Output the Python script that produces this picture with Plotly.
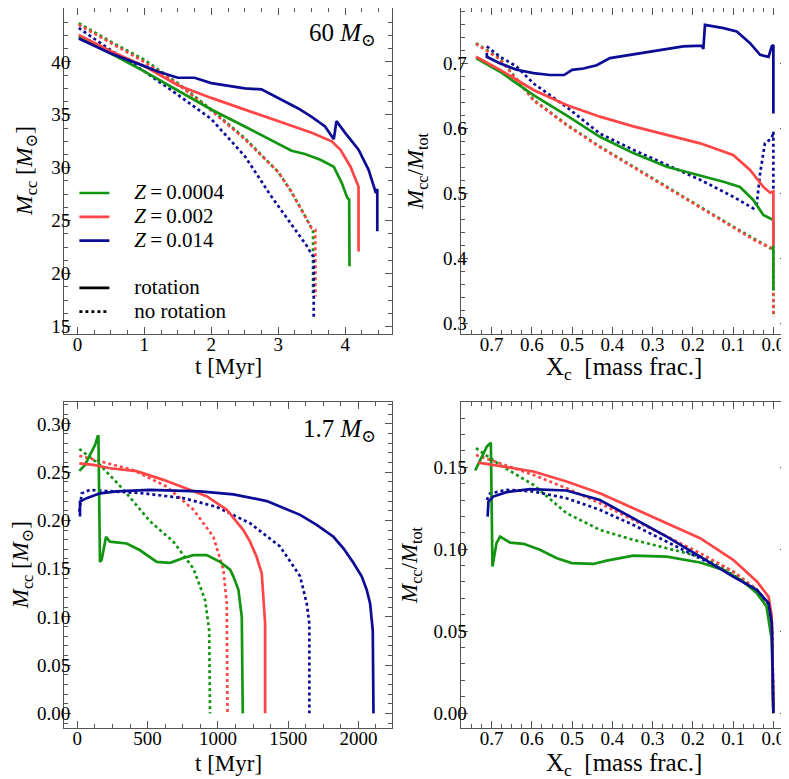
import plotly.graph_objects as go

# colours for the three metallicities
GREEN = "#129612"
RED = "#ff4545"
BLUE = "#0b0b96"
FONT = "Liberation Serif, Times New Roman, DejaVu Serif, serif"

# ---- 60 Msun, M_cc vs t [Myr] ----
t60_z0004_rot = [0.02, 0.5, 1.0, 1.5, 2.0, 2.5, 3.0, 3.2, 3.4, 3.63, 3.83, 3.95, 4.03, 4.06, 4.065]
m60_z0004_rot = [42.4, 40.8, 39.1, 37.3, 35.5, 33.9, 32.3, 31.6, 31.3, 30.75, 30.1, 28.55, 27.2, 27.0, 20.7]
t60_z002_rot = [0.02, 0.5, 1.0, 1.5, 2.0, 2.5, 3.0, 3.5, 3.8, 3.93, 4.08, 4.19, 4.2, 4.2]
m60_z002_rot = [42.55, 41.0, 39.6, 37.8, 36.6, 35.5, 34.4, 33.3, 32.5, 31.7, 30.1, 28.3, 28.2, 22.1]
t60_z014_rot = [0.02, 0.5, 1.0, 1.2, 1.5, 1.75, 2.0, 2.3, 2.5, 2.75, 3.0, 3.3, 3.5, 3.7, 3.83, 3.87,
                4.0, 4.2, 4.35, 4.46, 4.48, 4.48]
m60_z014_rot = [42.2, 40.8, 39.6, 39.1, 38.5, 38.5, 38.0, 37.7, 37.5, 37.4, 36.6, 35.6, 34.8, 33.9, 32.7, 34.4,
                33.3, 31.7, 29.8, 27.6, 28.0, 24.0]
t60_z0004_norot = [0.02, 0.5, 1.0, 1.5, 2.0, 2.5, 3.0, 3.18, 3.38, 3.5, 3.52, 3.52]
m60_z0004_norot = [43.65, 41.9, 40.2, 38.0, 35.5, 32.8, 29.6, 27.9, 25.7, 24.3, 24.0, 17.9]
t60_z002_norot = [0.02, 0.5, 1.0, 1.5, 2.0, 2.5, 3.0, 3.18, 3.38, 3.5, 3.555, 3.555]
m60_z002_norot = [43.5, 41.8, 40.0, 37.9, 35.4, 32.7, 29.6, 27.9, 25.7, 24.3, 24.15, 17.85]
t60_z014_norot = [0.02, 0.5, 1.0, 1.5, 2.0, 2.5, 2.7, 2.88, 3.18, 3.43, 3.5, 3.53, 3.53]
m60_z014_norot = [43.2, 41.1, 39.1, 36.9, 34.6, 31.1, 29.2, 27.45, 24.8, 22.6, 21.8, 21.6, 15.8]

# ---- 60 Msun, M_cc/M_tot vs X_c ----
x60_z0004_rot = [0.739, 0.679, 0.596, 0.514, 0.431, 0.348, 0.265, 0.182, 0.124, 0.083, 0.05, 0.025, 0.0, 0.0]
f60_z0004_rot = [0.708, 0.687, 0.651, 0.62, 0.587, 0.562, 0.541, 0.528, 0.518, 0.51, 0.49, 0.467, 0.459, 0.351]
x60_z002_rot = [0.739, 0.679, 0.596, 0.514, 0.431, 0.348, 0.265, 0.182, 0.1, 0.058, 0.025, 0.008, 0.0, 0.0]
f60_z002_rot = [0.71, 0.69, 0.659, 0.636, 0.618, 0.603, 0.59, 0.577, 0.559, 0.536, 0.51, 0.501, 0.503, 0.42]
x60_z014_rot = [0.712, 0.712, 0.68, 0.638, 0.596, 0.555, 0.52, 0.50, 0.472, 0.439, 0.406, 0.356, 0.306,
                0.273, 0.224, 0.178, 0.174, 0.17, 0.124, 0.091, 0.058, 0.033, 0.012, 0.004, 0.0, 0.0]
f60_z014_rot = [0.716, 0.71, 0.70, 0.69, 0.685, 0.682, 0.682, 0.69, 0.692, 0.697, 0.708, 0.713, 0.718,
                0.721, 0.726, 0.727, 0.722, 0.759, 0.754, 0.749, 0.731, 0.713, 0.71, 0.726, 0.728, 0.623]
x60_z0004_norot = [0.739, 0.679, 0.596, 0.514, 0.431, 0.348, 0.265, 0.182, 0.1, 0.041, 0.0, 0.0]
f60_z0004_norot = [0.731, 0.707, 0.644, 0.606, 0.572, 0.541, 0.51, 0.48, 0.449, 0.428, 0.413, 0.31]
x60_z002_norot = [0.739, 0.679, 0.596, 0.514, 0.431, 0.348, 0.265, 0.182, 0.1, 0.041, 0.0, 0.0]
f60_z002_norot = [0.73, 0.706, 0.643, 0.605, 0.571, 0.54, 0.509, 0.479, 0.448, 0.426, 0.415, 0.31]
x60_z014_norot = [0.712, 0.679, 0.638, 0.596, 0.514, 0.431, 0.348, 0.265, 0.182, 0.1, 0.05, 0.041,
                  0.033, 0.021, 0.004, 0.0, 0.0]
f60_z014_norot = [0.726, 0.71, 0.695, 0.669, 0.633, 0.592, 0.567, 0.544, 0.521, 0.495, 0.477, 0.485,
                  0.531, 0.577, 0.585, 0.595, 0.505]

# ---- 1.7 Msun, M_cc vs t [Myr] ----
t17_z0004_rot = [14, 55, 90, 126, 145, 150, 161, 173, 204, 232, 351, 446, 565, 660, 754, 826, 920,
                 1015, 1087, 1110, 1146, 1170, 1177]
m17_z0004_rot = [0.2513, 0.2575, 0.268, 0.278, 0.287, 0.287, 0.157, 0.159, 0.183, 0.178, 0.176, 0.169,
                 0.157, 0.156, 0.161, 0.164, 0.164, 0.157, 0.149, 0.142, 0.128, 0.1, 0.0]
t17_z002_rot = [14, 114, 232, 422, 612, 778, 920, 1063, 1181, 1229, 1276, 1312, 1329, 1336, 1336]
m17_z002_rot = [0.259, 0.2575, 0.254, 0.251, 0.242, 0.233, 0.225, 0.211, 0.19, 0.178, 0.162, 0.145,
                0.114, 0.093, 0.0]
t17_z014_rot = [19, 19, 66, 161, 280, 517, 873, 1110, 1348, 1585, 1703, 1822, 1893, 1964, 2024, 2059,
                2083, 2102, 2107]
m17_z014_rot = [0.204, 0.2195, 0.223, 0.228, 0.23, 0.2316, 0.23, 0.227, 0.22, 0.2057, 0.1953, 0.183,
                0.171, 0.156, 0.1417, 0.128, 0.114, 0.086, 0.0]
t17_z0004_norot = [14, 161, 327, 517, 683, 826, 909, 938, 944]
m17_z0004_norot = [0.274, 0.2575, 0.232, 0.199, 0.178, 0.150, 0.1175, 0.086, 0.0]
t17_z002_norot = [14, 161, 399, 636, 826, 968, 1039, 1063, 1068]
m17_z002_norot = [0.267, 0.261, 0.252, 0.235, 0.211, 0.183, 0.149, 0.114, 0.0]
t17_z014_norot = [14, 31, 90, 232, 470, 754, 991, 1229, 1442, 1585, 1632, 1651, 1651]
m17_z014_norot = [0.209, 0.228, 0.2316, 0.23, 0.228, 0.223, 0.214, 0.197, 0.173, 0.142, 0.114, 0.093, 0.0]

# ---- 1.7 Msun, M_cc/M_tot vs X_c ----
x17_z0004_rot = [0.741, 0.725, 0.712, 0.702, 0.698, 0.688, 0.679, 0.654, 0.621, 0.580, 0.538, 0.501,
                 0.447, 0.414, 0.348, 0.265, 0.182, 0.124, 0.075, 0.041, 0.017, 0.004, 0.0]
f17_z0004_rot = [0.148, 0.1565, 0.1626, 0.165, 0.0894, 0.1037, 0.1077, 0.104, 0.1033, 0.0996, 0.0945,
                 0.0915, 0.091, 0.093, 0.0961, 0.0955, 0.0919, 0.0874, 0.0803, 0.0732, 0.065, 0.0447, 0.0]
x17_z002_rot = [0.733, 0.679, 0.596, 0.514, 0.431, 0.348, 0.265, 0.182, 0.1, 0.041, 0.012, 0.004, 0.0]
f17_z002_rot = [0.1528, 0.1508, 0.1474, 0.1413, 0.1341, 0.125, 0.1159, 0.1067, 0.0935, 0.0803, 0.0711,
                0.059, 0.0]
x17_z014_rot = [0.71, 0.708, 0.696, 0.663, 0.605, 0.514, 0.431, 0.348, 0.265, 0.182, 0.1, 0.041, 0.012,
                0.004, 0.0]
f17_z014_rot = [0.1199, 0.129, 0.1321, 0.1348, 0.1366, 0.1358, 0.130, 0.1189, 0.1077, 0.0955, 0.0833,
                0.0752, 0.0671, 0.055, 0.0]
x17_z0004_norot = [0.739, 0.679, 0.596, 0.514, 0.431, 0.348, 0.265, 0.182, 0.1, 0.041, 0.01, 0.003, 0.0]
f17_z0004_norot = [0.1616, 0.1514, 0.1392, 0.122, 0.1118, 0.1057, 0.1006, 0.0955, 0.0864, 0.0752,
                   0.066, 0.05, 0.0]
x17_z002_norot = [0.739, 0.679, 0.596, 0.514, 0.431, 0.348, 0.265, 0.182, 0.1, 0.041, 0.01, 0.003, 0.0]
f17_z002_norot = [0.1575, 0.1524, 0.1453, 0.1372, 0.128, 0.1179, 0.1077, 0.0976, 0.0864, 0.0752,
                  0.066, 0.05, 0.0]
x17_z014_norot = [0.712, 0.704, 0.663, 0.596, 0.514, 0.431, 0.348, 0.265, 0.182, 0.1, 0.041, 0.01,
                  0.003, 0.0]
f17_z014_norot = [0.13, 0.134, 0.1362, 0.1352, 0.1311, 0.124, 0.1148, 0.1047, 0.0945, 0.0843, 0.0742,
                  0.066, 0.05, 0.0]

z_labels = ["0.0004", "0.002", "0.014"]
colors = [GREEN, RED, BLUE]

panels = [
    ("x", "y",
     [(t60_z0004_rot, m60_z0004_rot), (t60_z002_rot, m60_z002_rot), (t60_z014_rot, m60_z014_rot)],
     [(t60_z0004_norot, m60_z0004_norot), (t60_z002_norot, m60_z002_norot), (t60_z014_norot, m60_z014_norot)]),
    ("x2", "y2",
     [(x60_z0004_rot, f60_z0004_rot), (x60_z002_rot, f60_z002_rot), (x60_z014_rot, f60_z014_rot)],
     [(x60_z0004_norot, f60_z0004_norot), (x60_z002_norot, f60_z002_norot), (x60_z014_norot, f60_z014_norot)]),
    ("x3", "y3",
     [(t17_z0004_rot, m17_z0004_rot), (t17_z002_rot, m17_z002_rot), (t17_z014_rot, m17_z014_rot)],
     [(t17_z0004_norot, m17_z0004_norot), (t17_z002_norot, m17_z002_norot), (t17_z014_norot, m17_z014_norot)]),
    ("x4", "y4",
     [(x17_z0004_rot, f17_z0004_rot), (x17_z002_rot, f17_z002_rot), (x17_z014_rot, f17_z014_rot)],
     [(x17_z0004_norot, f17_z0004_norot), (x17_z002_norot, f17_z002_norot), (x17_z014_norot, f17_z014_norot)]),
]

# legend text: bigger than the legend font so the rows stay tight
GAP = "\u00a0\u00a0\u00a0\u2009"


def leg(txt):
    return '<span style="font-size:21px">' + GAP + txt + "</span>"


fig = go.Figure()
for k, (xa, ya, rot, norot) in enumerate(panels):
    for i in range(3):
        xs, ys = norot[i]
        fig.add_trace(go.Scatter(x=xs, y=ys, xaxis=xa, yaxis=ya, mode="lines",
                                 line=dict(color=colors[i], width=2.7, dash="dot"),
                                 showlegend=False, hoverinfo="skip"))
    for i in range(3):
        xs, ys = rot[i]
        fig.add_trace(go.Scatter(x=xs, y=ys, xaxis=xa, yaxis=ya, mode="lines",
                                 line=dict(color=colors[i], width=2.7),
                                 name=leg("<i>Z</i>\u2009=\u2009" + z_labels[i]),
                                 showlegend=(k == 0), legend="legend", hoverinfo="skip"))

# line-style legend entries
fig.add_trace(go.Scatter(x=[None], y=[None], mode="lines", line=dict(color="black", width=2.7),
                         name=leg("rotation"), legend="legend2"))
fig.add_trace(go.Scatter(x=[None], y=[None], mode="lines", line=dict(color="black", width=2.7, dash="dot"),
                         name=leg("no rotation"), legend="legend2"))

tick_font = dict(family=FONT, size=19, color="black")
FRAME = "#555555"


def ax(domain, rng, dtick, minor, fmt=None, anchor=None, vertical=False):
    d = dict(domain=domain, range=rng, dtick=dtick, tick0=0, ticks="inside", ticklen=7, tickwidth=1,
             tickcolor=FRAME, showline=True, linecolor=FRAME, linewidth=1, mirror="ticks",
             showgrid=False, zeroline=False, tickfont=tick_font, automargin=False, anchor=anchor,
             ticklabelstandoff=-11 if vertical else -7,
             minor=dict(dtick=minor, ticks="inside", ticklen=4, tickcolor=FRAME, showgrid=False))
    if fmt:
        d["tickformat"] = fmt
    return d


# page body keeps an 8px margin, so the figure is 8px smaller on each axis
W, H = 781, 771
XL = [0.0717, 0.4917]
XR = [0.5796, 0.997]
YT = [0.5772, 1.0]
YB = [0.0661, 0.4894]

mcc = "<i>M</i><sub>cc</sub> [<i>M</i><sub>\u2299</sub>]"
frac = "<i>M</i><sub>cc</sub>/<i>M</i><sub>tot</sub>"
xc = "X<sub>c</sub>\u2002[mass frac.]"


def label(text, xa, ya, x, y, size, angle=0):
    return dict(text=text, xref=xa + " domain", yref=ya + " domain", x=x, y=y, xanchor="center",
                yanchor="middle", textangle=angle, showarrow=False,
                font=dict(family=FONT, size=size, color="black"))


annotations = [
    label("t [Myr]", "x", "y", 0.5, -0.101, 23),
    label(mcc, "x", "y", -0.116, 0.5, 23.5, -90),
    label(xc, "x2", "y2", 0.5, -0.106, 25),
    label(frac, "x2", "y2", -0.134, 0.5, 23, -90),
    label("t [Myr]", "x3", "y3", 0.5, -0.11, 23),
    label(mcc, "x3", "y3", -0.127, 0.5, 23, -90),
    label(xc, "x4", "y4", 0.5, -0.113, 25),
    label(frac, "x4", "y4", -0.152, 0.5, 23, -90),
    dict(text="60 <i>M</i><sub>\u2299</sub>", xref="x domain", yref="y domain", x=0.957, y=0.92,
         xanchor="right", yanchor="middle", showarrow=False, font=dict(family=FONT, size=25)),
    dict(text="1.7 <i>M</i><sub>\u2299</sub>", xref="x3 domain", yref="y3 domain", x=0.957, y=0.912,
         xanchor="right", yanchor="middle", showarrow=False, font=dict(family=FONT, size=25)),
]

fig.update_layout(
    width=W, height=H,
    margin=dict(l=0, r=0, t=0, b=0),
    paper_bgcolor="white", plot_bgcolor="white",
    font=dict(family=FONT, color="black"),
    xaxis=ax(XL, [-0.2, 4.7], 1, 0.25, anchor="y"),
    yaxis=ax(YT, [14.3, 45.09], 5, 1.25, anchor="x", vertical=True),
    xaxis2=ax(XR, [0.777, -0.033], 0.1, 0.025, fmt=".1f", anchor="y2"),
    yaxis2=ax(YT, [0.284, 0.785], 0.1, 0.02, fmt=".1f", anchor="x2", vertical=True),
    xaxis3=ax(XL, [-95, 2239], 500, 125, anchor="y3"),
    yaxis3=ax(YB, [-0.0152, 0.323], 0.05, 0.01, fmt=".2f", anchor="x3", vertical=True),
    xaxis4=ax(XR, [0.777, -0.033], 0.1, 0.025, fmt=".1f", anchor="y4"),
    yaxis4=ax(YB, [-0.0091, 0.19], 0.05, 0.01, fmt=".2f", anchor="x4", vertical=True),
    legend=dict(x=0.085, y=0.782, xanchor="left", yanchor="top", bgcolor="rgba(0,0,0,0)",
                font=dict(family=FONT, size=16, color="black"), tracegroupgap=0, itemwidth=30),
    legend2=dict(x=0.085, y=0.659, xanchor="left", yanchor="top", bgcolor="rgba(0,0,0,0)",
                 font=dict(family=FONT, size=16, color="black"), itemwidth=30),
    annotations=annotations,
)

fig.write_html("out.html")
